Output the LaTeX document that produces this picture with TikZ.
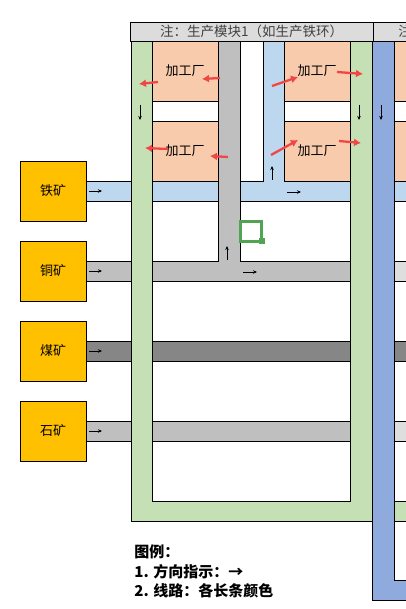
\documentclass[tikz,border=0pt]{standalone}
\usepackage{fontspec}
\newfontfamily\cjk{Noto Sans CJK SC}
\usetikzlibrary{arrows.meta}
\definecolor{gfr}{HTML}{C5E0B4}
\definecolor{bfr}{HTML}{8FAADC}
\definecolor{lb}{HTML}{BDD7EE}
\definecolor{gy}{HTML}{BFBFBF}
\definecolor{dg}{HTML}{878687}
\definecolor{lg}{HTML}{DEDEDE}
\definecolor{sal}{HTML}{F8CBAD}
\definecolor{ore}{HTML}{FFC000}
\definecolor{hdr}{HTML}{DCDCDC}
\definecolor{rd}{HTML}{F04646}
\definecolor{sel}{HTML}{52A452}
\tikzset{
  fac/.style={draw, fill=sal, minimum width=66pt, minimum height=60pt, inner sep=0pt, font=\cjk\fontsize{13}{13}\selectfont},
  mine/.style={draw, fill=ore, minimum width=66pt, minimum height=60pt, inner sep=0pt, font=\cjk\fontsize{13}{13}\selectfont},
  hdrbox/.style={draw, fill=hdr, minimum height=19pt, inner sep=0pt, text=black!75, font=\cjk\fontsize{13.5}{13.5}\selectfont},
  blk/.style={line width=0.7pt, -{Stealth[length=4pt,width=3.5pt]}},
  redarr/.style={rd, line width=2.3pt, -{Latex[length=7pt,width=8pt]}},
  legend/.style={anchor=west, inner sep=0pt, font=\cjk\bfseries\fontsize{15}{15}\selectfont},
}
\begin{document}
\begin{tikzpicture}[x=1pt,y=-1pt,line width=0.9pt]
\path[use as bounding box] (0,0) rectangle (406,609);
\clip (0,0) rectangle (406,609);
% module 2 blue frame
\draw[fill=bfr] (372,41) -- (394,41) -- (394,580) -- (412,580) -- (412,600) -- (372,600) -- cycle;
% module 2 contents
\draw[fill=sal] (394,41) rectangle (412,101);
\draw[fill=white] (394,101) rectangle (412,121);
\draw[fill=sal] (394,121) rectangle (412,181);
\draw[fill=lb] (394,181) rectangle (412,201);
\draw[fill=lg] (394,261) rectangle (412,281);
\draw[fill=dg] (394,341) rectangle (412,361);
\draw[fill=lg] (394,421) rectangle (412,441);
\draw[fill=gfr] (394,501) rectangle (412,521);
% left bars
\draw[fill=lb] (86,181) rectangle (131,201);
\draw[fill=gy] (86,261) rectangle (131,281);
\draw[fill=dg] (86,341) rectangle (131,361);
\draw[fill=gy] (86,421) rectangle (131,441);
% green frame
\draw[fill=gfr, even odd rule] (131,41) rectangle (372,521) (152,41) rectangle (350,501);
% inner bars
\draw[fill=lb] (152,181) -- (263,181) -- (263,41) -- (284,41) -- (284,181) -- (350,181) -- (350,201) -- (152,201) -- cycle;
\draw[fill=gy] (218,41) -- (240,41) -- (240,261) -- (350,261) -- (350,281) -- (152,281) -- (152,261) -- (218,261) -- cycle;
\draw[fill=dg] (152,341) rectangle (350,361);
\draw[fill=gy] (152,421) rectangle (350,441);
% factories
\node[fac] (f1) at (185,71) {加工厂};
\node[fac] (f2) at (317,71) {加工厂};
\node[fac] (f3) at (185,151) {加工厂};
\node[fac] (f4) at (317,151) {加工厂};
% headers
\node[hdrbox, minimum width=243pt] (h1) at (251.5,31.5) {注：生产模块1（如生产铁环）};
\draw[fill=hdr] (373,22) rectangle (420,41);
\node[anchor=west, inner sep=0pt, text=black!75, font=\cjk\fontsize{13.5}{13.5}\selectfont] (h2) at (398,31.5) {注};
% mines
\node[mine] (m1) at (53,191) {铁矿};
\node[mine] (m2) at (53,271) {铜矿};
\node[mine] (m3) at (53,351) {煤矿};
\node[mine] (m4) at (53,431) {石矿};
% black direction arrows
\coordinate (a1s) at (89,191); \coordinate (a1e) at (102,191);
\coordinate (a2s) at (89,271); \coordinate (a2e) at (102,271);
\coordinate (a3s) at (89,351); \coordinate (a3e) at (102,351);
\coordinate (a4s) at (89,431); \coordinate (a4e) at (102,431);
\draw[blk] (a1s) -- (a1e);
\draw[blk] (a2s) -- (a2e);
\draw[blk] (a3s) -- (a3e);
\draw[blk] (a4s) -- (a4e);
\coordinate (d1s) at (140,105); \coordinate (d1e) at (140,120);
\coordinate (d2s) at (359,105); \coordinate (d2e) at (359,120);
\coordinate (d3s) at (381,105); \coordinate (d3e) at (381,120);
\draw[blk] (d1s) -- (d1e);
\draw[blk] (d2s) -- (d2e);
\draw[blk] (d3s) -- (d3e);
\coordinate (u1s) at (272,180); \coordinate (u1e) at (272,166);
\coordinate (u2s) at (227,260); \coordinate (u2e) at (227,246);
\draw[blk] (u1s) -- (u1e);
\draw[blk] (u2s) -- (u2e);
\coordinate (r1s) at (287,192); \coordinate (r1e) at (301,192);
\coordinate (r2s) at (243,272); \coordinate (r2e) at (257,272);
\draw[blk] (r1s) -- (r1e);
\draw[blk] (r2s) -- (r2e);
% red output arrows
\coordinate (p1s) at (158,82); \coordinate (p1e) at (139,84);
\coordinate (p2s) at (220,78); \coordinate (p2e) at (202,79);
\coordinate (p3s) at (272,86); \coordinate (p3e) at (298,77);
\coordinate (p4s) at (337,72); \coordinate (p4e) at (363,74);
\coordinate (p5s) at (168,149); \coordinate (p5e) at (145,148);
\coordinate (p6s) at (228,157); \coordinate (p6e) at (210,156);
\coordinate (p7s) at (271,155); \coordinate (p7e) at (298,140);
\coordinate (p8s) at (339,141); \coordinate (p8e) at (361,143);
\foreach \i in {1,...,8} {\draw[redarr] (p\i s) -- (p\i e);}
% selection marker
\draw[sel, line width=3pt] (240.5,221.5) rectangle (261.5,241.5);
\fill[sel] (259,238) rectangle (265,244);
% legend
\node[legend] (lg1) at (134,552) {图例：};
\node[legend] (lg2) at (134,572) {1. 方向指示：→};
\node[legend] (lg3) at (134,591) {2. 线路：各长条颜色};
\end{tikzpicture}
\end{document}
